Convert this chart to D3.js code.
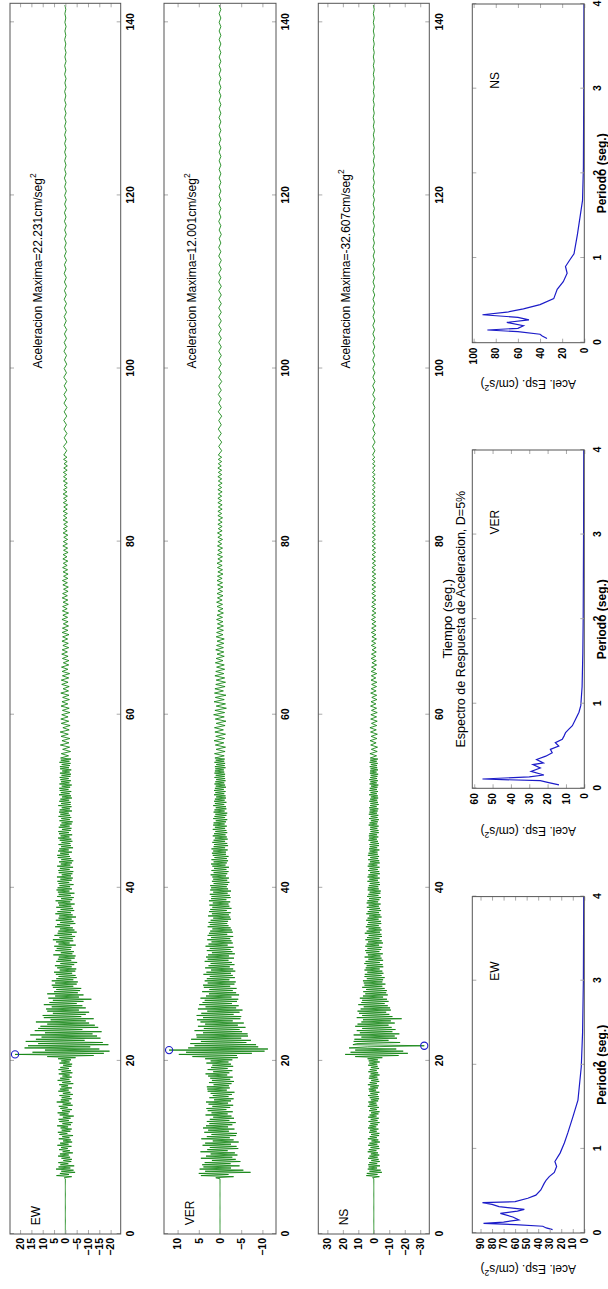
<!DOCTYPE html>
<html><head><meta charset="utf-8">
<script src="https://cdn.jsdelivr.net/npm/d3@7"></script>
<style>html,body{margin:0;padding:0;background:#fff}svg{display:block}</style>
</head><body>
<svg id="c" width="608" height="1289"></svg>
<script>
// ---------------- DATA ----------------
const components = ["EW", "VER", "NS"];
const timeTicks = [0, 20, 40, 60, 80, 100, 120, 140];
const timeRange = [0, 142.2];
// each record is stored in three sampled segments: start time (s) and sample step (s)
const segStarts = [0, 55, 90];
const segSteps = [0.125, 0.25, 0.5];

const ewSeg1 = [0,0,0,0,0,0,0,0,0,0,0,0,0,0,0,0,0,0,0,0,0,0,0,0,0,0,0,0,0,0,0,0,0,0,0,0,0,0,0,0,0,0,0,0,0,0,0,0,0,0,0,0,
0.5,-2.8,3.9,-1.6,
2.4,-4.3,1.8,-3.6,4.1,-2.2,3.0,-3.9,
2.2,-1.3,3.1,-2.6,0.9,-2.9,1.7,-2.1,
3.2,-1.5,2.4,-3.3,1.2,-2.0,2.8,-1.1,
1.9,-2.7,3.5,-1.4,2.3,-3.0,1.0,-2.4,
2.9,-1.8,1.4,-3.4,2.6,-0.9,3.3,-2.2,
1.6,-2.8,2.1,-1.2,3.6,-2.5,1.3,-3.1,
2.7,-1.6,3.0,-2.3,1.1,-3.7,2.5,-1.4,
3.4,-2.0,1.5,-2.9,2.2,-1.0,2.9,-3.2,
1.2,-2.4,3.8,-1.7,2.0,-2.8,1.6,-2.1,
2.6,-3.3,1.1,-2.2,3.1,-1.5,2.4,-2.9,
1.8,-1.2,2.7,-3.5,1.4,-2.3,3.4,-1.8,
2.3,-2.8,1.3,-1.9,2.9,-3.1,1.7,-2.4,
3.0,-1.6,2.2,-2.7,1.0,-3.0,2.6,-1.9,
1.8,-2.5,3.2,-4.5,
8.0,-12.5,22.231,-17.0,
14.5,-19.5,9.0,-15.0,18.0,-11.0,16.5,-19.0,
12.0,-16.5,17.5,-8.5,13.0,-15.5,10.5,-14.0,
15.5,-12.0,9.0,-16.0,13.5,-7.5,12.0,-14.5,
11.0,-13.0,8.0,-10.5,13.0,-9.0,6.5,-12.5,
9.5,-7.0,10.0,-9.0,5.5,-10.5,8.0,-6.0,
8.5,-9.0,6.0,-7.5,9.5,-5.0,7.0,-8.0,
5.5,-11.5,7.5,-6.0,4.5,-8.0,8.0,-5.5,
5.0,-6.5,4.0,-7.0,5.5,-3.5,6.0,-5.0,
4.5,-5.5,6.0,-3.5,4.0,-5.0,3.0,-4.5,
4.2,-3.0,5.0,-4.4,2.5,-4.8,3.6,-2.8,
4.6,-3.9,2.2,-5.2,4.0,-2.6,3.3,-4.1,
2.9,-4.5,5.3,-3.1,2.0,-3.8,4.4,-2.4,
3.8,-2.7,4.9,-4.6,3.0,-1.9,4.1,-3.5,
5.5,-3.2,2.6,-4.3,4.8,-2.9,3.4,-5.0,
3.1,-4.0,2.4,-3.3,4.5,-2.1,3.7,-4.4,
2.3,-3.6,4.2,-2.8,3.0,-4.7,2.7,-3.2,
4.4,-2.5,3.5,-3.9,2.1,-3.4,4.0,-2.6,
2.8,-4.1,3.2,-2.2,4.3,-3.0,1.9,-3.7,
3.6,-2.4,2.9,-4.0,3.3,-1.8,3.9,-2.9,
3.4,-2.1,2.6,-3.6,3.0,-1.7,3.5,-2.8,
2.2,-3.3,3.7,-2.5,1.6,-3.1,2.9,-3.5,
3.1,-1.9,2.4,-3.4,3.6,-2.2,2.0,-2.9,
2.8,-3.5,1.8,-2.6,3.3,-2.0,3.6,-1.6,
2.3,-2.9,3.2,-1.5,2.7,-3.4,1.9,-2.5,
3.0,-2.2,1.7,-3.1,2.5,-2.6,3.2,-1.8,
2.1,-3.0,2.8,-1.6,3.1,-2.4,1.5,-2.7,
2.9,-1.9,2.3,-2.8,1.7,-3.2,2.6,-2.0,
1.8,-2.6,3.0,-2.1,2.2,-1.5,2.8,-2.9,
2.5,-2.0,1.6,-2.7,3.1,-2.3,1.9,-2.4,
2.7,-1.7,2.2,-2.9,1.5,-2.5,2.8,-1.9,
2.0,-2.6,2.5,-1.4,2.7,-2.1,1.6,-2.8,
2.6,-1.8,1.9,-2.4,2.2,-1.5,2.5,-2.2,
1.7,-2.5,2.4,-1.9,1.4,-2.6,2.3,-1.6,
2.4,-2.0,1.6,-2.3,2.6,-1.8,2.0,-2.5];
const ewSeg2 = [
2.1,-1.4,1.8,-2.3,1.2,-1.9,2.2,-1.6,1.5,-2.0,1.9,-1.3,2.3,-1.7,1.1,-2.1,1.8,-1.5,2.0,-1.2,
1.6,-2.0,1.3,-1.7,1.9,-1.1,1.5,-1.8,1.2,-1.6,2.0,-1.4,1.0,-1.7,1.6,-1.2,1.8,-1.5,1.3,-1.9,
1.4,-1.1,1.7,-1.5,0.9,-1.6,1.3,-1.2,1.6,-0.9,1.4,-1.5,1.1,-1.3,1.5,-1.0,1.2,-1.6,1.4,-1.1,
1.3,-1.4,0.9,-1.2,1.5,-1.0,1.1,-1.4,1.3,-0.8,1.2,-1.3,1.0,-1.1,1.4,-0.9,1.2,-1.2,0.8,-1.3,
1.1,-0.9,1.3,-1.1,0.8,-1.2,1.0,-1.0,1.2,-0.8,0.9,-1.1,1.1,-0.7,1.0,-1.2,0.8,-1.0,1.1,-0.9,
0.9,-1.0,0.7,-1.1,1.0,-0.8,0.9,-0.9,0.7,-1.0,1.0,-0.7,0.8,-0.9,1.0,-0.8,0.7,-1.0,0.9,-0.7,
0.8,-0.9,1.0,-0.7,0.8,-0.8,0.6,-0.9,0.9,-0.7,0.8,-0.6,0.9,-0.8,0.7,-0.9,0.6,-0.8,0.8,-0.7];
const ewSeg3 = [
0.7,-0.6,0.8,-0.7,0.5,-0.7,0.6,-0.5,0.7,-0.6,0.5,-0.7,0.6,-0.5,0.6,-0.6,0.5,-0.6,0.7,-0.5,
0.5,-0.6,0.4,-0.5,0.6,-0.4,0.5,-0.5,0.4,-0.6,0.5,-0.4,0.5,-0.5,0.4,-0.5,0.5,-0.4,0.4,-0.5,
0.4,-0.4,0.5,-0.3,0.4,-0.5,0.4,-0.4,0.3,-0.4,0.4,-0.4,0.3,-0.4,0.4,-0.3,0.4,-0.4,0.3,-0.4,
0.3,-0.4,0.3,-0.3,0.4,-0.3,0.3,-0.3,0.3,-0.3,0.3,-0.3,0.3,-0.3,0.3,-0.3,0.3,-0.3,0.3,-0.3,
0.3,-0.3,0.3,-0.2,0.3,-0.3,0.2,-0.3,0.3,-0.2,0.3,-0.3,0.2,-0.3,0.2,-0.2,0.3,-0.2,0.2,-0.3,0.2,-0.2,0.2,-0.2,0.2];

const verSeg1 = [0,0,0,0,0,0,0,0,0,0,0,0,0,0,0,0,0,0,0,0,0,0,0,0,0,0,0,0,0,0,0,0,0,0,0,0,0,0,0,0,0,0,0,0,0,0,0,0,0,0,0,0,
1.0,-3.2,4.5,-2.0,
5.0,-7.2,3.5,-5.5,4.8,-2.6,3.9,-4.6,
4.2,-2.5,3.6,-4.8,1.9,-3.7,4.5,-2.9,
3.3,-4.1,2.2,-3.5,4.6,-1.8,3.0,-4.3,
2.4,-3.9,4.1,-2.6,3.5,-4.4,1.7,-3.2,
4.4,-2.3,3.1,-3.8,2.0,-4.0,3.7,-2.1,
2.8,-3.4,4.0,-1.9,3.3,-2.9,2.5,-3.7,
3.1,-2.2,2.4,-3.3,1.6,-2.7,3.4,-1.8,
2.0,-3.0,2.9,-1.5,3.2,-2.4,1.8,-3.1,
2.7,-1.9,3.3,-2.6,1.4,-3.2,2.5,-2.0,
1.7,-2.8,2.2,-3.4,2.9,-1.6,3.0,-2.3,
3.1,-2.1,1.5,-2.7,2.6,-3.3,1.9,-2.4,
2.3,-3.0,2.8,-1.7,3.4,-2.2,1.6,-2.9,
2.9,-1.8,2.1,-3.1,1.8,-2.6,3.2,-2.0,
2.2,-2.9,3.5,-4.2,
6.5,-4.0,9.7,-7.5,
8.0,-10.5,12.001,-11.3,7.5,-9.0,6.0,-8.5,
7.0,-6.2,4.5,-7.3,6.8,-5.0,5.5,-6.6,
5.6,-6.5,4.0,-5.2,6.0,-4.6,3.8,-6.0,
5.2,-4.2,3.5,-5.6,4.6,-3.0,5.4,-4.8,
4.0,-5.0,5.5,-3.2,4.4,-4.6,3.0,-5.3,
5.2,-3.8,3.4,-4.4,4.9,-2.8,4.1,-4.0,
3.6,-4.3,4.6,-2.7,3.3,-4.5,2.6,-3.8,
4.2,-3.0,2.5,-3.9,3.8,-2.4,4.0,-3.4,
2.9,-3.7,3.6,-2.2,3.1,-3.5,2.4,-3.0,
3.9,-2.6,3.2,-3.6,2.1,-3.1,3.5,-2.3,
2.7,-3.4,2.2,-2.8,3.6,-2.0,2.9,-3.3,
3.3,-2.1,2.8,-3.5,1.9,-2.9,3.1,-2.5,
2.4,-3.2,3.4,-1.8,2.7,-3.0,2.0,-2.7,
3.0,-2.4,2.1,-3.1,2.9,-1.7,2.6,-3.0,
2.3,-2.8,1.8,-2.5,2.9,-2.0,2.4,-1.7,
2.7,-1.9,2.2,-2.6,1.6,-2.4,2.8,-2.1,
1.9,-2.5,2.6,-1.6,2.3,-2.7,1.8,-2.2,
2.5,-2.0,1.7,-2.4,2.6,-1.5,2.1,-2.5,
2.0,-2.3,2.4,-1.8,1.6,-2.6,2.3,-1.9,
2.1,-1.6,2.3,-1.9,1.5,-2.2,1.9,-1.7,
1.6,-2.1,1.8,-1.4,2.2,-1.7,1.5,-2.0,
2.0,-1.5,1.4,-2.1,1.8,-1.3,2.1,-1.6,
1.5,-1.9,2.0,-1.6,1.3,-2.0,1.7,-1.4,
1.9,-1.4,1.6,-1.8,2.0,-1.2,1.5,-1.9,
1.4,-1.7,1.8,-1.2,1.5,-1.8,1.2,-1.6,
1.7,-1.3,1.4,-1.7,1.1,-1.5,1.7,-1.2,
1.2,-1.6,1.6,-1.1,1.5,-1.4,1.0,-1.7,
1.6,-1.2,1.3,-1.5,1.1,-1.7,1.5,-1.1,
1.3,-1.5,1.0,-1.4,1.6,-1.0,1.2,-1.5,
1.4,-1.1,1.2,-1.4,0.9,-1.3,1.4,-1.0,
1.1,-1.3,1.4,-0.9,1.2,-1.4,1.0,-1.2,
1.3,-1.0,1.1,-1.3,0.9,-1.2,1.3,-1.1,
1.0,-1.2,1.3,-1.0,1.2,-0.9,1.1,-1.3,
1.2,-1.1,0.9,-1.2,1.3,-1.0,1.0,-1.1];
const verSeg2 = [
1.2,-1.0,1.3,-1.2,0.9,-1.3,1.1,-0.9,1.4,-1.1,1.0,-1.3,1.2,-0.8,1.3,-1.2,0.9,-1.4,1.1,-1.0,
1.5,-1.1,1.2,-1.5,0.9,-1.3,1.4,-1.0,1.1,-1.4,1.3,-0.8,1.2,-1.2,1.0,-1.3,0.9,-1.1,1.2,-0.9,
1.0,-1.1,0.8,-1.0,1.1,-0.7,0.9,-1.0,0.7,-0.9,1.0,-0.8,0.8,-0.9,0.7,-1.0,0.9,-0.7,0.8,-0.8,
0.7,-0.8,0.6,-0.7,0.8,-0.6,0.7,-0.8,0.5,-0.7,0.7,-0.6,0.8,-0.5,0.6,-0.7,0.7,-0.6,0.5,-0.7,
0.6,-0.6,0.7,-0.5,0.6,-0.7,0.5,-0.6,0.6,-0.5,0.7,-0.5,0.5,-0.6,0.6,-0.5,0.5,-0.6,0.6,-0.4,
0.5,-0.6,0.5,-0.4,0.6,-0.5,0.4,-0.5,0.5,-0.5,0.4,-0.6,0.5,-0.4,0.5,-0.5,0.4,-0.5,0.5,-0.4,
0.5,-0.4,0.4,-0.5,0.5,-0.4,0.4,-0.5,0.4,-0.4,0.5,-0.4,0.4,-0.4,0.5,-0.3,0.4,-0.4,0.4,-0.4];
const verSeg3 = [
0.4,-0.4,0.3,-0.4,0.4,-0.3,0.4,-0.3,0.3,-0.4,0.4,-0.3,0.3,-0.3,0.4,-0.3,0.3,-0.4,0.3,-0.3,
0.3,-0.3,0.3,-0.3,0.3,-0.3,0.3,-0.3,0.3,-0.3,0.3,-0.3,0.3,-0.3,0.3,-0.3,0.3,-0.3,0.3,-0.3,
0.3,-0.2,0.3,-0.3,0.2,-0.3,0.3,-0.2,0.3,-0.2,0.2,-0.3,0.2,-0.2,0.3,-0.2,0.2,-0.2,0.3,-0.2,
0.2,-0.2,0.2,-0.2,0.2,-0.2,0.2,-0.2,0.2,-0.2,0.2,-0.2,0.2,-0.2,0.2,-0.2,0.2,-0.2,0.2,-0.2,
0.2,-0.2,0.2,-0.2,0.2,-0.2,0.2,-0.2,0.2,-0.2,0.2,-0.2,0.2,-0.2,0.2,-0.2,0.2,-0.2,0.2,-0.2,0.2,-0.2,0.2,-0.2,0.2];

const nsSeg1 = [0,0,0,0,0,0,0,0,0,0,0,0,0,0,0,0,0,0,0,0,0,0,0,0,0,0,0,0,0,0,0,0,0,0,0,0,0,0,0,0,0,0,0,0,0,0,0,0,0,0,0,0,
0.8,-3.6,4.8,-2.4,
4.5,-5.2,2.8,-4.4,3.9,-2.1,3.3,-4.0,
3.6,-2.2,2.9,-3.8,1.6,-3.1,3.7,-2.5,
2.8,-3.5,1.9,-2.7,3.9,-1.7,3.2,-3.6,
2.1,-3.3,3.6,-2.3,2.8,-3.9,1.5,-2.9,
3.8,-2.0,2.6,-3.4,1.8,-3.6,3.1,-1.9,
2.5,-3.0,3.7,-1.6,2.9,-2.6,2.2,-3.7,
3.4,-2.4,2.0,-3.2,3.6,-1.8,2.7,-3.0,
1.8,-3.7,3.1,-2.1,2.4,-3.3,3.8,-2.2,
2.9,-1.7,3.5,-2.8,1.9,-3.4,2.6,-3.1,
3.7,-2.6,2.2,-3.6,3.0,-1.5,3.3,-2.7,
2.3,-3.2,3.8,-2.0,2.6,-3.5,1.7,-2.9,
3.2,-2.3,2.8,-3.7,2.1,-2.8,3.5,-1.9,
2.6,-3.4,1.9,-2.5,3.6,-2.2,2.9,-3.8,
3.3,-2.6,4.0,-5.5,
12.0,-16.0,18.5,-22.0,
15.0,-19.0,12.0,-14.5,16.0,4.0,-32.607,13.5,
11.0,-17.0,13.0,-9.5,12.5,-15.0,8.0,-13.5,
13.0,-16.5,9.0,-12.0,11.0,-14.0,7.5,-11.5,
12.0,-9.5,10.5,-13.5,8.0,-11.0,7.0,-18.0,
11.0,-12.0,7.5,-10.0,9.5,-8.0,10.5,-11.0,
8.5,-10.5,6.5,-9.0,10.0,-7.0,8.0,-9.5,
7.5,-8.5,9.0,-6.0,7.0,-9.0,5.5,-8.0,
6.8,-8.4,5.0,-7.0,7.5,-5.5,6.0,-7.5,
6.5,-5.5,7.0,-6.0,4.5,-7.0,6.0,-5.0,
5.8,-6.2,4.2,-5.5,6.0,-3.8,5.2,-6.1,
4.6,-5.7,6.1,-3.9,5.3,-6.0,3.5,-5.0,
5.9,-4.3,3.8,-5.8,4.9,-3.6,5.6,-4.7,
4.1,-5.4,5.5,-3.4,4.6,-5.9,3.7,-5.1,
5.4,-3.7,4.4,-5.3,3.3,-4.9,5.8,-4.0,
4.6,-5.0,3.4,-4.3,5.1,-3.2,4.2,-4.8,
3.6,-4.6,4.9,-3.1,4.0,-5.0,3.0,-4.2,
4.8,-3.4,3.9,-4.7,2.9,-4.0,4.5,-3.3,
3.3,-4.4,4.6,-2.8,4.1,-3.6,3.1,-4.6,
4.3,-3.0,3.5,-4.2,2.7,-4.5,3.9,-3.2,
3.8,-2.9,3.2,-4.0,2.6,-3.6,4.1,-2.7,
2.9,-3.8,4.0,-2.5,3.4,-3.9,2.4,-3.5,
3.7,-2.6,2.8,-3.7,3.9,-2.3,3.3,-3.8,
2.5,-3.5,3.6,-2.8,2.3,-3.4,3.8,-2.6,
3.4,-2.4,2.7,-3.6,3.1,-2.2,2.6,-3.3,
2.8,-3.3,2.2,-2.7,3.4,-2.0,3.0,-2.9,
3.2,-2.1,2.9,-3.2,2.1,-3.0,2.5,-2.3,
2.3,-3.1,3.3,-2.2,2.7,-2.6,1.9,-3.2,
3.1,-2.4,2.0,-2.9,3.2,-2.1,2.8,-2.5,
2.6,-2.9,3.0,-1.9,2.4,-3.1,2.2,-2.7,
2.9,-2.2,2.4,-2.8,1.9,-2.6,3.0,-2.0,
2.1,-2.7,2.8,-2.0,2.6,-2.4,1.8,-2.9,
2.7,-1.9,2.2,-2.6,2.9,-2.1,2.3,-2.3,
2.0,-2.8,2.5,-1.8,2.4,-2.7,2.1,-2.2,
2.6,-2.1,1.9,-2.5,2.7,-1.9,2.3,-2.6];
const nsSeg2 = [
2.3,-1.8,2.5,-2.2,1.6,-2.4,2.0,-1.5,2.4,-2.0,1.7,-2.3,2.1,-1.6,2.5,-1.9,1.5,-2.2,2.0,-1.8,
1.9,-2.2,1.5,-1.8,2.1,-1.4,1.8,-2.0,1.3,-1.9,2.0,-1.5,1.7,-1.8,1.4,-2.0,1.8,-1.3,1.6,-1.9,
1.7,-1.4,1.5,-1.8,1.2,-1.6,1.7,-1.3,1.5,-1.6,1.1,-1.5,1.6,-1.2,1.4,-1.7,1.2,-1.4,1.6,-1.3,
1.4,-1.5,1.2,-1.3,1.5,-1.1,1.3,-1.4,1.0,-1.3,1.4,-1.1,1.2,-1.4,1.1,-1.2,1.3,-1.0,1.2,-1.3,
1.2,-1.1,1.3,-1.2,1.0,-1.3,1.1,-1.0,1.2,-1.2,0.9,-1.1,1.2,-1.0,1.1,-1.2,0.9,-1.1,1.1,-1.0,
1.1,-1.0,0.9,-1.1,1.0,-0.9,1.1,-1.0,0.8,-1.0,1.0,-0.9,0.9,-1.0,1.0,-0.8,0.9,-1.0,0.8,-0.9,
0.9,-0.9,1.0,-0.8,0.9,-0.9,0.8,-1.0,0.9,-0.8,0.8,-0.9,0.9,-0.7,0.8,-0.9,0.8,-0.8,0.9,-0.7];
const nsSeg3 = [
0.8,-0.7,0.8,-0.8,0.7,-0.8,0.6,-0.7,0.8,-0.6,0.7,-0.7,0.6,-0.8,0.7,-0.6,0.7,-0.7,0.6,-0.7,
0.6,-0.6,0.7,-0.5,0.6,-0.6,0.5,-0.6,0.6,-0.5,0.6,-0.6,0.5,-0.5,0.6,-0.5,0.5,-0.6,0.5,-0.5,
0.5,-0.5,0.5,-0.4,0.5,-0.5,0.4,-0.5,0.5,-0.4,0.4,-0.5,0.4,-0.4,0.5,-0.4,0.4,-0.4,0.4,-0.4,
0.4,-0.4,0.4,-0.4,0.4,-0.3,0.4,-0.4,0.3,-0.4,0.4,-0.3,0.4,-0.3,0.3,-0.4,0.3,-0.3,0.4,-0.3,
0.3,-0.3,0.4,-0.3,0.3,-0.3,0.3,-0.3,0.3,-0.3,0.3,-0.3,0.3,-0.3,0.3,-0.3,0.3,-0.3,0.3,-0.3,0.3,-0.3,0.3,-0.3,0.3];

const ewAccTicks = [-20, -15, -10, -5, 0, 5, 10, 15, 20];
const verAccTicks = [-10, -5, 0, 5, 10];
const nsAccTicks = [-30, -20, -10, 0, 10, 20, 30];

// response spectra (period s, spectral acceleration cm/s2)
const periodTicks = [0, 1, 2, 3, 4];
const ewSpecT = [0.04,0.06,0.08,0.10,0.115,0.13,0.155,0.19,0.234,0.26,0.28,0.313,0.34,0.36,0.373,0.413,0.45,0.512,0.59,0.63,0.67,0.72,0.79,0.85,0.95,1.07,1.19,1.38,1.58,1.98,2.38,3.0,4.0];
const ewSpecA = [27.5,33,36,60,87.4,70,56.7,62,72.8,58,52,74,80,88.3,60,49,42,37.7,34.8,33,30.4,26,24,25.5,21,17.3,14.3,9.9,5.5,2.6,1.5,0.8,0.5];
const verSpecT = [0.04,0.07,0.09,0.11,0.135,0.157,0.2,0.24,0.28,0.3,0.34,0.38,0.42,0.46,0.5,0.54,0.58,0.62,0.66,0.7,0.74,0.82,0.9,0.98,1.2,1.6,2.0,3.0,4.0];
const verSpecA = [13.8,20,24,55.5,30,22,29,24,28,22.3,26,21,17.5,18.5,13.9,15.8,12,11,10.2,8.4,6.5,4.7,2.9,1.9,1.2,0.8,0.6,0.4,0.3];
const nsSpecT = [0.05,0.08,0.1,0.13,0.15,0.17,0.2,0.24,0.27,0.3,0.33,0.36,0.4,0.45,0.52,0.63,0.72,0.82,0.9,0.98,1.05,1.28,1.68,2.07,3.0,4.0];
const nsSpecA = [33.7,38,40,60,87.6,60,55,70,50,60,92,70,55,40,27.6,24.5,19,15.5,17,13,9.3,6.2,1.6,0.8,0.5,0.3];
const ewSpecTicks = [0,10,20,30,40,50,60,70,80,90];
const verSpecTicks = [0,10,20,30,40,50,60];
const nsSpecTicks = [0,20,40,60,80,100];

// ---------------- LAYOUT (unrotated figure, 1289 wide x 608 tall) ----------------
const FW = 1289;
const FONT = "'Liberation Sans', Arial, Helvetica, sans-serif";
const timeL = 55, timeR = 1285.7;
const timeRows = [{top: 10, bottom: 120.7}, {top: 164, bottom: 276}, {top: 318.3, bottom: 429.3}];
const specTop = 472.3, specBottom = 584.3;
const specCols = [{left: 56, right: 392.4, ylab: 24}, {left: 500.7, right: 839, ylab: 462}, {left: 946.3, right: 1285, ylab: 909}];
const GREEN = "#0d820d", BLUE = "#1c1cc8", FRAME = "#555", TICK = "#aaa";

const svg = d3.select("#c");
const fig = svg.append("g").attr("transform", `translate(0,${FW}) rotate(-90)`);

function buildSeries(segs) {
  const pts = [];
  segs.forEach((vals, s) => vals.forEach((v, i) => pts.push([segStarts[s] + i * segSteps[s], v])));
  return pts;
}
const records = [
  {name: components[0], data: buildSeries([ewSeg1, ewSeg2, ewSeg3]), ticks: ewAccTicks},
  {name: components[1], data: buildSeries([verSeg1, verSeg2, verSeg3]), ticks: verAccTicks},
  {name: components[2], data: buildSeries([nsSeg1, nsSeg2, nsSeg3]), ticks: nsAccTicks}
];
const spectra = [
  {name: components[0], T: ewSpecT, A: ewSpecA, ticks: ewSpecTicks},
  {name: components[1], T: verSpecT, A: verSpecA, ticks: verSpecTicks},
  {name: components[2], T: nsSpecT, A: nsSpecA, ticks: nsSpecTicks}
];

function styleAxis(sel, labelSize, bold) {
  sel.select(".domain").remove();
  sel.selectAll(".tick line").attr("stroke", TICK).attr("stroke-width", 1);
  sel.selectAll(".tick text").attr("fill", "#000").attr("font-family", FONT)
     .attr("font-size", labelSize).attr("font-weight", bold ? "bold" : "normal");
  sel.attr("font-family", null).attr("font-size", null);
}

// ---------------- TIME HISTORIES ----------------
records.forEach((rec, k) => {
  const box = timeRows[k];
  const peak = rec.data.reduce((a, b) => Math.abs(b[1]) > Math.abs(a[1]) ? b : a);
  const lim = 1.1 * Math.abs(peak[1]);
  const x = d3.scaleLinear().domain(timeRange).range([timeL, timeR]);
  const y = d3.scaleLinear().domain([-lim, lim]).range([box.bottom, box.top]);
  const p = fig.append("g");
  p.append("clipPath").attr("id", "clipT" + k).append("rect")
    .attr("x", timeL).attr("y", box.top).attr("width", timeR - timeL).attr("height", box.bottom - box.top);
  p.append("path").datum(rec.data)
    .attr("clip-path", `url(#clipT${k})`)
    .attr("d", d3.line().x(d => x(d[0])).y(d => y(d[1])))
    .attr("fill", "none").attr("stroke", GREEN).attr("stroke-width", 0.85).attr("stroke-linejoin", "miter");
  p.append("g").attr("transform", `translate(0,${box.bottom})`)
    .call(d3.axisBottom(x).tickValues(timeTicks).tickSize(-4).tickPadding(6).tickFormat(d3.format("d")))
    .call(s => styleAxis(s, 10.5, true));
  p.append("g").attr("transform", `translate(0,${box.top})`)
    .call(d3.axisTop(x).tickValues(timeTicks).tickSize(-4).tickFormat(""))
    .call(s => styleAxis(s, 10, false));
  p.append("g").attr("transform", `translate(${timeL},0)`)
    .call(d3.axisLeft(y).tickValues(rec.ticks).tickSize(-4).tickPadding(4).tickFormat(d3.format("d")))
    .call(s => styleAxis(s, 10.5, true));
  p.append("g").attr("transform", `translate(${timeR},0)`)
    .call(d3.axisRight(y).tickValues(rec.ticks).tickSize(-4).tickFormat(""))
    .call(s => styleAxis(s, 10, false));
  p.append("rect").attr("x", timeL).attr("y", box.top).attr("width", timeR - timeL)
    .attr("height", box.bottom - box.top).attr("fill", "none").attr("stroke", FRAME).attr("stroke-width", 1);
  p.append("circle").attr("cx", x(peak[0])).attr("cy", y(peak[1])).attr("r", 3.6)
    .attr("fill", "none").attr("stroke", BLUE).attr("stroke-width", 1.1);
  p.append("text").attr("x", x(1)).attr("y", box.top + 30)
    .attr("font-family", FONT).attr("font-size", 12).text(rec.name);
  const t = p.append("text").attr("x", x(100)).attr("y", box.top + 32)
    .attr("font-family", FONT).attr("font-size", 12)
    .text("Aceleracion Maxima=" + peak[1].toFixed(3) + "cm/seg");
  t.append("tspan").attr("dy", -6).attr("font-size", 8.5).text("2");
  if (k === 2) {
    p.append("text").attr("x", (timeL + timeR) / 2).attr("y", box.bottom + 23)
      .attr("text-anchor", "middle").attr("font-family", FONT).attr("font-size", 13)
      .text("Tiempo (seg.)");
  }
});

// ---------------- RESPONSE SPECTRA ----------------
spectra.forEach((sp, k) => {
  const col = specCols[k];
  const pts = sp.T.map((t, i) => [t, sp.A[i]]);
  const x = d3.scaleLinear().domain([0, 4]).range([col.left, col.right]);
  const y = d3.scaleLinear().domain([0, 1.1 * d3.max(sp.A)]).range([specBottom, specTop]);
  const p = fig.append("g");
  p.append("clipPath").attr("id", "clipS" + k).append("rect")
    .attr("x", col.left).attr("y", specTop).attr("width", col.right - col.left).attr("height", specBottom - specTop);
  p.append("path").datum(pts).attr("clip-path", `url(#clipS${k})`)
    .attr("d", d3.line().x(d => x(d[0])).y(d => y(d[1])))
    .attr("fill", "none").attr("stroke", BLUE).attr("stroke-width", 1.2);
  p.append("g").attr("transform", `translate(0,${specBottom})`)
    .call(d3.axisBottom(x).tickValues(periodTicks).tickSize(-4).tickPadding(9).tickFormat(d3.format("d")))
    .call(s => styleAxis(s, 10.5, true));
  p.append("g").attr("transform", `translate(0,${specTop})`)
    .call(d3.axisTop(x).tickValues(periodTicks).tickSize(-4).tickFormat(""))
    .call(s => styleAxis(s, 10, false));
  p.append("g").attr("transform", `translate(${col.left},0)`)
    .call(d3.axisLeft(y).tickValues(sp.ticks).tickSize(-4).tickPadding(5).tickFormat(d3.format("d")))
    .call(s => styleAxis(s, 10, true));
  p.append("g").attr("transform", `translate(${col.right},0)`)
    .call(d3.axisRight(y).tickValues(sp.ticks).tickSize(-4).tickFormat(""))
    .call(s => styleAxis(s, 10, false));
  p.append("rect").attr("x", col.left).attr("y", specTop).attr("width", col.right - col.left)
    .attr("height", specBottom - specTop).attr("fill", "none").attr("stroke", FRAME).attr("stroke-width", 1);
  p.append("text").attr("x", x(3)).attr("y", specTop + 27)
    .attr("font-family", FONT).attr("font-size", 12).text(sp.name);
  p.append("text").attr("x", x(2)).attr("y", 605.5).attr("text-anchor", "middle")
    .attr("font-family", FONT).attr("font-size", 12).attr("font-weight", "bold").text("Periodo (seg.)");
  const yl = p.append("text")
    .attr("transform", `translate(${col.ylab},${(specTop + specBottom) / 2}) rotate(-90)`)
    .attr("text-anchor", "middle").attr("font-family", FONT).attr("font-size", 12)
    .text("Acel. Esp. (cm/s");
  yl.append("tspan").attr("dy", -5).attr("font-size", 8.5).text("2");
  yl.append("tspan").attr("dy", 5).text(")");
  if (k === 1) {
    p.append("text").attr("x", (col.left + col.right) / 2).attr("y", specTop - 7)
      .attr("text-anchor", "middle").attr("font-family", FONT).attr("font-size", 12.5)
      .text("Espectro de Respuesta de Aceleracion, D=5%");
  }
});
</script>
</body></html>
